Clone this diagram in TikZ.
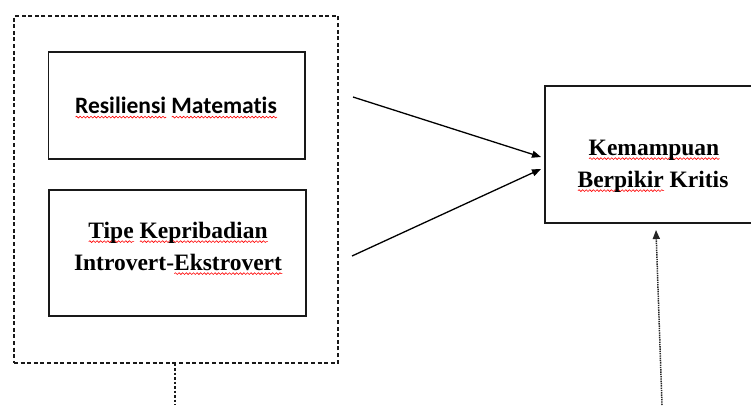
\documentclass[tikz,border=0pt]{standalone}
\usepackage{fontspec}
\setmainfont{Liberation Serif}
\newfontfamily\calibri[RawFeature=-liga]{Carlito}
\usetikzlibrary{arrows.meta,decorations.pathmorphing}
\newlength\wvlen
\newcommand\wv[1]{\settowidth\wvlen{#1}\leavevmode\rlap{\tikz[baseline=0pt]\draw[red,line width=0.6pt,decorate,decoration={snake,amplitude=0.9pt,segment length=3.6pt}] (0pt,-3.6pt) -- (\wvlen,-3.6pt);}#1}
\tikzset{
  box/.style={draw=black!90,line width=1.4pt,minimum width=#1,inner sep=0pt},
  lbl/.style={anchor=base,inner sep=0pt,font=\fontsize{23.5}{32}\selectfont\bfseries},
  outerdash/.style={draw=black!90,line width=1.3pt,dash pattern=on 4pt off 2.6pt},
  arr/.style={line width=1.3pt,-{Triangle[length=9pt,width=7pt]}},
  dotarr/.style={line width=1.5pt,draw=black!85,dash pattern=on 1.4pt off 0.9pt,-{Triangle[length=9pt,width=7pt]}}
}
\begin{document}
\begin{tikzpicture}[x=1pt,y=1pt]
\useasboundingbox (0,0) rectangle (751,-405);
\clip (0,0) rectangle (751,-405);
% outer dashed group
\node[outerdash,minimum width=324pt,minimum height=347pt,inner sep=0pt] (grp) at (176,-189.5) {};
% inner boxes
\node[box=256.5pt,minimum height=107pt] (b1) at (176.75,-105.5) {};
\node[box=257pt,minimum height=126pt] (b2) at (177.5,-253) {};
% right box
\node[box=218pt,minimum height=137pt] (b3) at (654,-154.5) {};
% texts
\node[lbl,font=\fontsize{23.5}{32}\selectfont\calibri\bfseries] (t1) at (176,-113.5) {\wv{Resiliensi} \wv{Matematis}};
\node[lbl] (t2a) at (178,-238) {\wv{Tipe} \wv{Kepribadian}};
\node[lbl] (t2b) at (178,-270) {Introvert-\wv{Ekstrovert}};
\node[lbl] (t3a) at (654,-155) {\wv{Kemampuan}};
\node[lbl] (t3b) at (653,-187) {\wv{Berpikir} Kritis};
% arrows
\coordinate (a1s) at (353,-97);
\coordinate (a1e) at (541,-157);
\coordinate (a2s) at (352,-256);
\coordinate (a2e) at (541,-169);
\draw[arr] (a1s) -- (a1e);
\draw[arr] (a2s) -- (a2e);
% dotted arrow from below
\coordinate (ds) at (662,-405);
\coordinate (de) at (656,-230);
\draw[dotarr] (ds) -- (de);
% dashed line down from the group
\coordinate (gs) at (175,-405);
\draw[outerdash,dash pattern=on 2.5pt off 2pt] (grp.south -| gs) -- (gs);
\end{tikzpicture}
\end{document}
